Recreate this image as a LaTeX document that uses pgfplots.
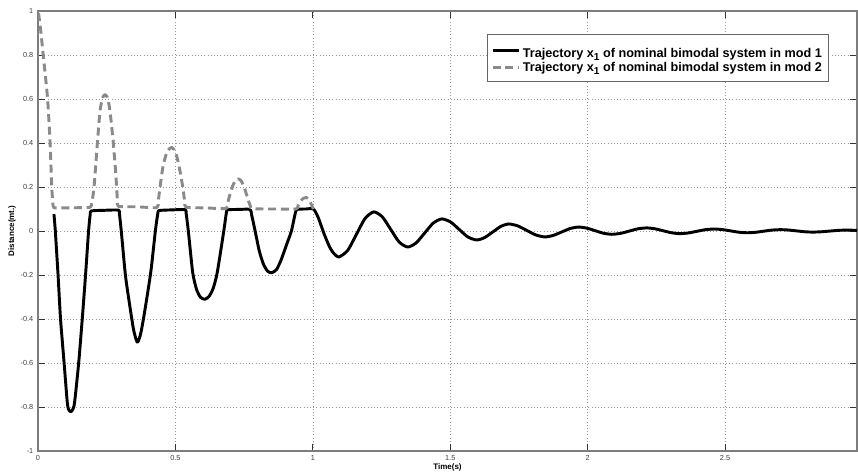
\documentclass[border=0pt]{standalone}
\usepackage{pgfplots}
\pgfplotsset{compat=1.18}
\usepackage{fontspec}
\setmainfont{Liberation Sans}
\definecolor{axgray}{RGB}{125,125,125}
\definecolor{dashgray}{RGB}{138,138,138}
\definecolor{gridgray}{RGB}{150,150,150}
\begin{document}
\begin{tikzpicture}
\begin{axis}[name=ax, at={(0,0)}, anchor=south west,
  scale only axis, width=614.25pt, height=330pt,
  xmin=0, xmax=2.98, ymin=-1, ymax=1,
  xtick={0,0.5,1,1.5,2,2.5},
  ytick={-1,-0.8,-0.6,-0.4,-0.2,0,0.2,0.4,0.6,0.8,1},
  yticklabels={-1,-0.8,-0.6,-0.4,-0.2,0,0.2,0.4,0.6,0.8,1},
  xticklabels={0,0.5,1,1.5,2,2.5},
  grid=major, major grid style={dotted, color=gridgray, line width=0.5pt},
  axis line style={axgray, line width=1pt},
  tick align=inside, tick pos=both, major tick length=5pt,
  tick style={black!80, line width=0.6pt},
  tick label style={font=\fontsize{5.5}{6}\selectfont, text=black!75},
  /pgf/number format/assume math mode=true,
  legend style={at={(0.9658,0.9477)}, anchor=north east,
    draw=black!60, line width=0.6pt, font=\fontsize{9.5}{10.5}\selectfont\bfseries,
    inner xsep=3pt, inner ysep=5.4pt, row sep=1pt, fill=white,
    nodes={inner ysep=0.5pt}},
  legend cell align=left,
  legend image code/.code={\draw[#1] (0pt,0pt) -- (19.5pt,0pt);},
]
\addplot[black, line width=2.2pt, line join=round, smooth, tension=0.4] coordinates {
(0.058,0.077) (0.063,0.0) (0.073,-0.2) (0.082,-0.4) (0.095,-0.6) (0.107,-0.785)
(0.113,-0.815) (0.119,-0.822) (0.126,-0.812) (0.133,-0.78) (0.148,-0.6)
(0.161,-0.4) (0.173,-0.2) (0.184,0.0) (0.190,0.075) (0.194,0.091) (0.240,0.094) (0.292,0.095)
(0.296,0.08) (0.303,0.0) (0.318,-0.2) (0.334,-0.34) (0.348,-0.45) (0.361,-0.505) (0.372,-0.475)
(0.385,-0.39) (0.410,-0.19) (0.427,0.0) (0.436,0.08) (0.441,0.093) (0.490,0.096) (0.535,0.097)
(0.539,0.08) (0.547,0.0) (0.563,-0.19) (0.578,-0.27) (0.592,-0.302) (0.607,-0.31) (0.622,-0.298)
(0.637,-0.262) (0.652,-0.19) (0.676,0.0) (0.685,0.08) (0.690,0.096) (0.730,0.098) (0.771,0.098)
(0.777,0.075) (0.790,0.0) (0.805,-0.09) (0.820,-0.15) (0.835,-0.182) (0.850,-0.19) (0.868,-0.175)
(0.885,-0.13) (0.905,-0.06) (0.922,0.0) (0.936,0.08) (0.943,0.098) (0.975,0.10) (1.002,0.10)
(1.020,0.06) (1.040,-0.01) (1.060,-0.07) (1.075,-0.10) (1.095,-0.118)
(1.127,-0.088) (1.1585,-0.0155) (1.190,0.057) (1.222,0.087)
(1.253,0.064) (1.2835,0.007) (1.314,-0.050) (1.345,-0.073)
(1.376,-0.054) (1.407,-0.009) (1.438,0.036) (1.469,0.055)
(1.501,0.041) (1.5325,0.007) (1.564,-0.027) (1.596,-0.041)
(1.625,-0.030) (1.6545,-0.0045) (1.684,0.021) (1.713,0.032)
(1.746,0.023) (1.7785,0.0025) (1.811,-0.018) (1.844,-0.027)
(1.875,-0.020) (1.9055,-0.0045) (1.936,0.011) (1.967,0.018)
(1.997,0.013) (2.027,0.0015) (2.057,-0.010) (2.087,-0.015)
(2.119,-0.011) (2.151,-0.0005) (2.183,0.010) (2.215,0.014)
(2.245,0.010) (2.275,0.001) (2.305,-0.008) (2.335,-0.012)
(2.366,-0.009) (2.397,-0.0015) (2.429,0.006) (2.46,0.009)
(2.49,0.0065) (2.52,0.0005) (2.55,-0.0055) (2.58,-0.008)
(2.61,-0.006) (2.64,-0.001) (2.67,0.004) (2.70,0.006)
(2.73,0.0045) (2.76,0.0005) (2.79,-0.0035) (2.82,-0.005)
(2.85,-0.0035) (2.88,-0.0005) (2.91,0.0027) (2.94,0.004) (2.98,0.003)
};
\addlegendentry{\rule{0pt}{11.35pt}Trajectory x\raisebox{-2.5pt}{\fontsize{7.6}{8}\selectfont 1} of nominal bimodal system in mod 1}
\addplot[dashgray, line width=2.2pt, dash pattern=on 6pt off 3.5pt, line join=round, smooth, tension=0.35] coordinates {
(0.002,0.99) (0.010,0.91) (0.019,0.8) (0.035,0.6) (0.044,0.4) (0.050,0.2) (0.054,0.13) (0.058,0.106)
(0.100,0.105) (0.150,0.106) (0.190,0.108)
(0.196,0.13) (0.204,0.2) (0.216,0.4) (0.226,0.55) (0.236,0.608) (0.244,0.62) (0.252,0.608)
(0.259,0.57) (0.266,0.5) (0.274,0.4) (0.283,0.26) (0.289,0.14) (0.293,0.112)
(0.360,0.110) (0.432,0.106)
(0.437,0.13) (0.444,0.2) (0.455,0.295) (0.468,0.355) (0.478,0.374) (0.486,0.38) (0.495,0.37)
(0.505,0.34) (0.517,0.27) (0.528,0.19) (0.534,0.13) (0.539,0.108)
(0.610,0.105) (0.684,0.102)
(0.690,0.125) (0.697,0.16) (0.710,0.21) (0.720,0.231) (0.728,0.237) (0.738,0.23) (0.750,0.2)
(0.765,0.14) (0.773,0.112) (0.779,0.101)
(0.860,0.100) (0.939,0.100)
(0.946,0.115) (0.955,0.135) (0.966,0.149) (0.975,0.152) (0.985,0.145) (0.995,0.12) (1.002,0.10)
};
\addlegendentry{Trajectory x\raisebox{-2.5pt}{\fontsize{7.6}{8}\selectfont 1} of nominal bimodal system in mod 2}
\end{axis}
\node[font=\fontsize{6}{7}\selectfont\bfseries] at ([yshift=-12pt]ax.south) {Time(s)};
\node[font=\fontsize{6}{7}\selectfont\bfseries, rotate=90] at ([xshift=-19.5pt]ax.west) {Distance(mt.)};
\pgfresetboundingbox
\useasboundingbox ([xshift=-28.5pt, yshift=-16.5pt]ax.south west) rectangle ([xshift=0.75pt, yshift=8.25pt]ax.north east);
\end{tikzpicture}
\end{document}
